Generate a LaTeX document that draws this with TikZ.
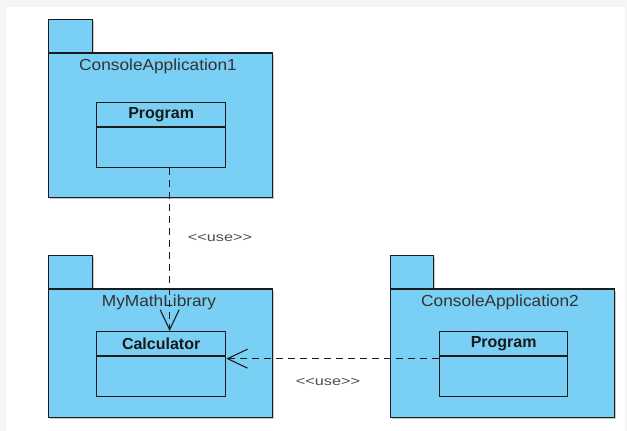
\documentclass[tikz,border=0pt]{standalone}
\usepackage{fontspec}
\setmainfont{Liberation Sans}
\usetikzlibrary{arrows.meta,shadows}
\definecolor{pkfill}{HTML}{7ACFF5}
\definecolor{edge}{HTML}{1C1C1C}
\definecolor{bggray}{HTML}{F5F5F5}
\begin{document}
\begin{tikzpicture}[x=1pt,y=-1pt,
  pkbody/.style={draw=edge,fill=pkfill,line width=1.3pt,rectangle,inner sep=0pt,
    drop shadow={shadow xshift=1.2pt,shadow yshift=-1.2pt,fill=black!35,opacity=0.6}},
  pktab/.style={pkbody,minimum width=44pt,minimum height=33pt,anchor=south west},
  pkname/.style={font=\fontsize{16}{18}\selectfont,text=black!80,inner sep=0pt},
  classbox/.style={draw=edge,fill=pkfill,line width=1.3pt,rectangle,inner sep=0pt,
    minimum width=129pt,minimum height=65pt,anchor=north west},
  classname/.style={font=\fontsize{16}{18}\selectfont\bfseries,text=black!90,inner sep=0pt},
  uselabel/.style={font=\fontsize{12.5}{14}\selectfont,text=black!70,inner sep=0pt},
  divider/.style={draw=edge,line width=1.3pt},
  dep/.style={draw=edge,line width=1.1pt,dash pattern=on 7pt off 5pt,
    -{Straight Barb[length=20pt,width=19pt,line width=1.1pt]}}
]
\useasboundingbox (0,0) rectangle (627,431);
\fill[bggray] (0,0) rectangle (627,431);
\fill[white] (6,7) rectangle (625,431);

% Package ConsoleApplication1
\node[pkbody,minimum width=224pt,minimum height=144pt,anchor=north west] (pk1) at (48,53) {};
\node[pktab] (pk1tab) at (pk1.north west) {};
\draw[divider] (pk1.north west) -- (pk1.north east);
\node[pkname] (pk1name) at (158,66) {\scalebox{1.08}[1]{ConsoleApplication1}};
\node[classbox] (c1) at (96,102) {};
\draw[divider] ([yshift=-25pt]c1.north west) -- ([yshift=-25pt]c1.north east);
\node[classname] (c1name) at ([yshift=-13pt]c1.north) {Program};

% Package MyMathLibrary
\node[pkbody,minimum width=224pt,minimum height=128pt,anchor=north west] (pk2) at (48,289) {};
\node[pktab] (pk2tab) at (pk2.north west) {};
\draw[divider] (pk2.north west) -- (pk2.north east);
\node[pkname] (pk2name) at (159,302) {\scalebox{1.08}[1]{MyMathLibrary}};
\node[classbox] (calc) at (96,331) {};
\draw[divider] ([yshift=-25pt]calc.north west) -- ([yshift=-25pt]calc.north east);
\node[classname] (calcname) at ([yshift=-13pt]calc.north) {Calculator};

% Package ConsoleApplication2
\node[pkbody,minimum width=224pt,minimum height=128pt,anchor=north west] (pk3) at (390,289) {};
\node[pktab,minimum width=43pt] (pk3tab) at (pk3.north west) {};
\draw[divider] (pk3.north west) -- (pk3.north east);
\node[pkname] (pk3name) at (500,302) {\scalebox{1.08}[1]{ConsoleApplication2}};
\node[classbox,minimum width=128pt] (c2) at (439,331) {};
\draw[divider] ([yshift=-25pt]c2.north west) -- ([yshift=-25pt]c2.north east);
\node[classname] (c2name) at ([yshift=-13pt]c2.north) {Program};

% Dependencies
\draw[dep] ([xshift=8.5pt]c1.south) -- ([xshift=8.5pt]calc.north);
\draw[dep] ([yshift=5.5pt]c2.west) -- ([yshift=5.5pt]calc.east);
\node[uselabel] (use1) at (220,238) {\scalebox{1.3}[1]{<{}<use>{}>}};
\node[uselabel] (use2) at (328,382) {\scalebox{1.3}[1]{<{}<use>{}>}};
\end{tikzpicture}
\end{document}
